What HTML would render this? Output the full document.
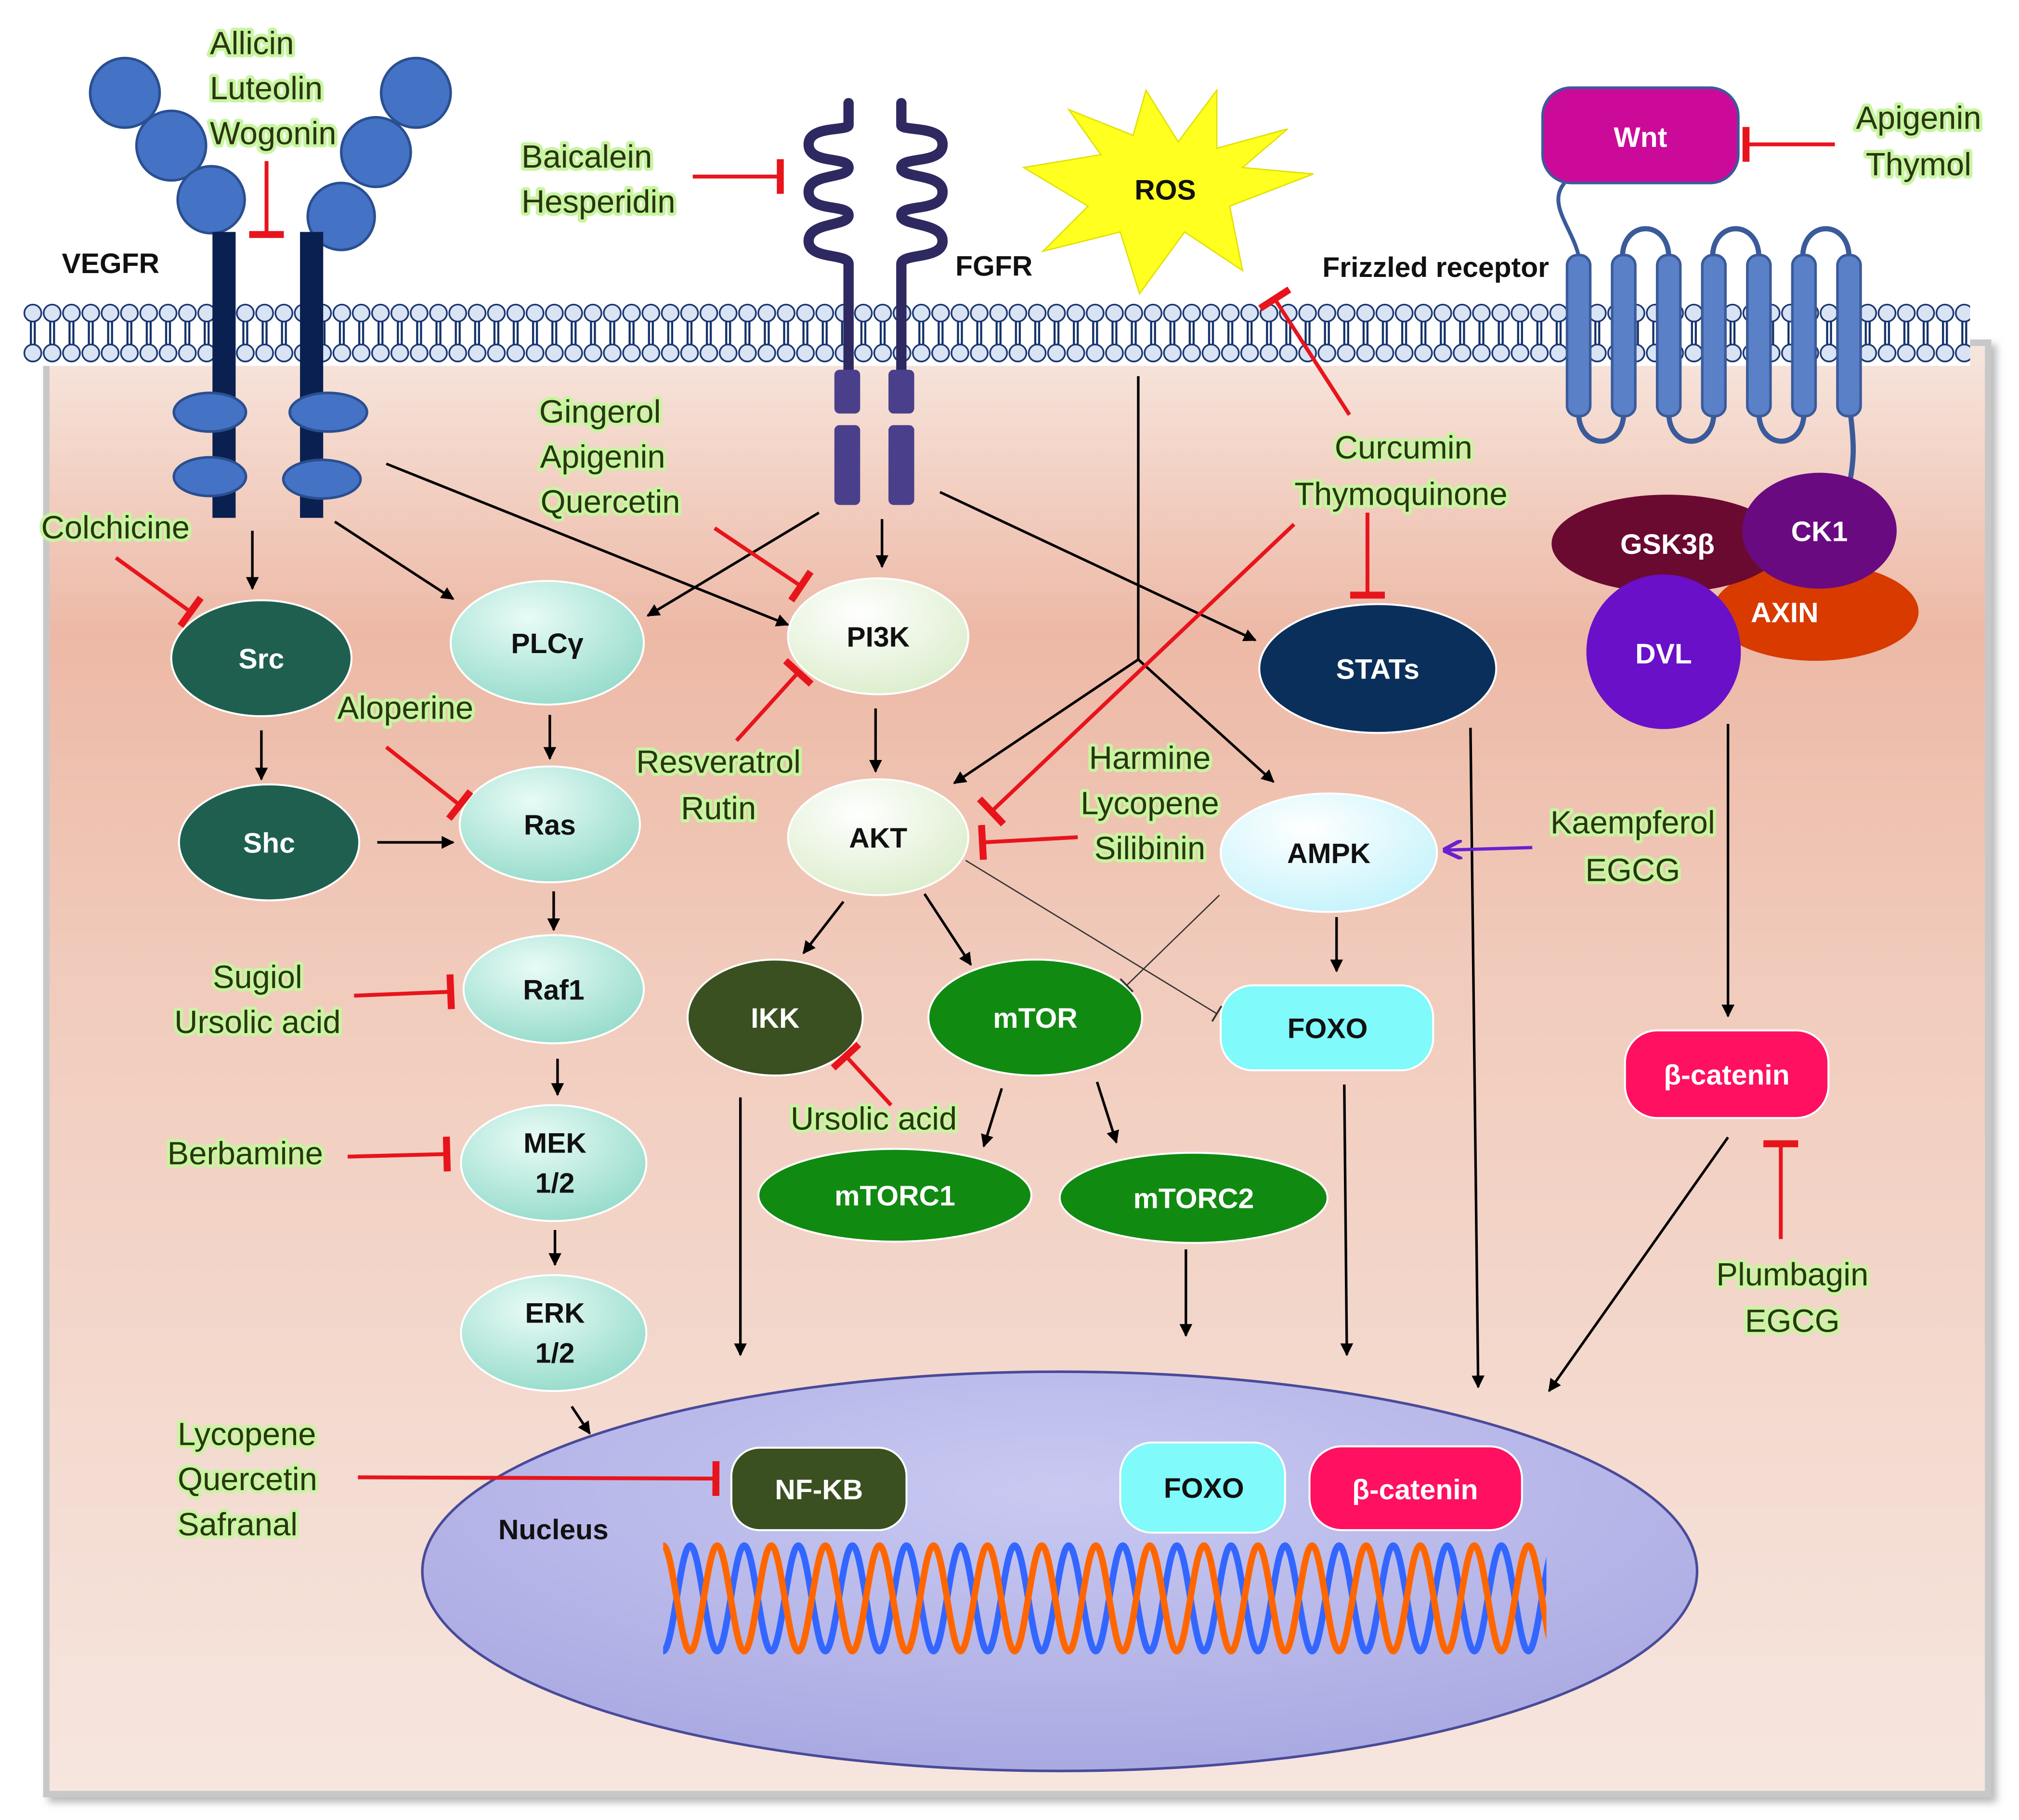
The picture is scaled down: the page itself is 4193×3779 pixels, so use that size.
<!DOCTYPE html>
<html><head><meta charset="utf-8"><style>html,body{margin:0;padding:0;background:#fff}svg{display:block}</style></head><body>
<svg width="4193" height="3779" viewBox="0 0 1568 1413" xmlns="http://www.w3.org/2000/svg" font-family="Liberation Sans, sans-serif">
<defs>
<linearGradient id="cell" x1="0" y1="0" x2="0" y2="1">
<stop offset="0" stop-color="#f7e6de"/><stop offset="0.2" stop-color="#edb9a6"/><stop offset="0.45" stop-color="#f1ccbd"/><stop offset="1" stop-color="#f6e6df"/></linearGradient>
<radialGradient id="aq" cx="0.4" cy="0.3" r="0.8"><stop offset="0" stop-color="#e8fbf6"/><stop offset="1" stop-color="#8fd9c8"/></radialGradient>
<radialGradient id="cr" cx="0.4" cy="0.3" r="0.8"><stop offset="0" stop-color="#ffffff"/><stop offset="1" stop-color="#d9ecc8"/></radialGradient>
<radialGradient id="am" cx="0.4" cy="0.3" r="0.8"><stop offset="0" stop-color="#ffffff"/><stop offset="1" stop-color="#c0f2fb"/></radialGradient>
<radialGradient id="nuc" cx="0.5" cy="0.3" r="0.8"><stop offset="0" stop-color="#c9c9f2"/><stop offset="1" stop-color="#a5a5e0"/></radialGradient>
<pattern id="mem" x="18" y="234" width="15" height="50" patternUnits="userSpaceOnUse">
<line x1="6" y1="14" x2="6" y2="36" stroke="#12306a" stroke-width="1.6"/><line x1="9" y1="14" x2="9" y2="36" stroke="#12306a" stroke-width="1.6"/>
<circle cx="7.5" cy="9" r="6.6" fill="#d8e3f4" stroke="#1a3570" stroke-width="1.3"/>
<circle cx="7.5" cy="40" r="6.6" fill="#d8e3f4" stroke="#1a3570" stroke-width="1.3"/>
</pattern>
<pattern id="dna" x="515" y="1196" width="42" height="90" patternUnits="userSpaceOnUse">
<path d="M-21,4 C-13.4,4 -7.6,86 0,86 C7.6,86 13.4,4 21,4 C28.6,4 34.4,86 42,86 C49.6,86 55.4,4 63,4" stroke="#3366ff" stroke-width="5" fill="none"/>
<path d="M-21,86 C-13.4,86 -7.6,4 0,4 C7.6,4 13.4,86 21,86 C28.6,86 34.4,4 42,4 C49.6,4 55.4,86 63,86" stroke="#ff6600" stroke-width="5" fill="none"/>
</pattern>
<marker id="ah" viewBox="0 0 10 10" refX="9" refY="5" markerWidth="5" markerHeight="5" orient="auto"><path d="M0,0 L10,5 L0,10 z" fill="#000"/></marker>
<marker id="ahp" viewBox="0 0 10 10" refX="9" refY="5" markerWidth="6" markerHeight="6" orient="auto"><path d="M0,0 L10,5 L0,10" fill="none" stroke="#6a20d0" stroke-width="2"/></marker>
<marker id="tb" viewBox="0 0 4 20" refX="2" refY="10" markerWidth="4" markerHeight="9" orient="auto"><rect x="0" y="0" width="4" height="20" fill="#e8141c"/></marker>
<marker id="tk" viewBox="0 0 4 20" refX="2" refY="10" markerWidth="8" markerHeight="14" orient="auto"><rect x="1" y="0" width="2" height="20" fill="#333"/></marker>
<filter id="sh"><feDropShadow dx="4" dy="4" stdDeviation="3" flood-color="#888" flood-opacity="0.6"/></filter>
</defs>
<rect width="1568" height="1413" fill="#fff"/>
<rect x="36" y="266" width="1508" height="1127" fill="url(#cell)" stroke="#c8c8c8" stroke-width="5" filter="url(#sh)"/>
<rect x="18" y="234" width="1512" height="50" fill="#fff"/>
<rect x="18" y="234" width="1512" height="50" fill="url(#mem)"/>

<!-- Nucleus -->
<ellipse cx="823" cy="1220" rx="495" ry="155" fill="url(#nuc)" stroke="#4a4a9a" stroke-width="2"/>
<rect x="515" y="1196" width="686" height="90" fill="url(#dna)"/>

<!-- VEGFR -->
<g fill="#4472c4" stroke="#2a4f90" stroke-width="2">
<circle cx="97" cy="72" r="27"/><circle cx="133" cy="113" r="27"/><circle cx="164" cy="155" r="26"/>
<circle cx="323" cy="72" r="27"/><circle cx="292" cy="118" r="27"/><circle cx="265" cy="168" r="26"/></g>
<rect x="165" y="180" width="18" height="222" fill="#0a2050"/><rect x="233" y="180" width="18" height="222" fill="#0a2050"/>
<g fill="#4472c4" stroke="#2a4f90" stroke-width="2">
<ellipse cx="163" cy="320" rx="28" ry="15"/><ellipse cx="163" cy="370" rx="28" ry="15"/>
<ellipse cx="255" cy="320" rx="30" ry="15"/><ellipse cx="250" cy="372" rx="30" ry="15"/></g>

<!-- FGFR -->
<g stroke="#2e2960" stroke-width="8" fill="none" stroke-linecap="round">
<path d="M659,80 L659,97 C659,102 628,97 628,112 C628,128 659,121 659,130 C659,139 628,134 628,149 C628,165 659,158 659,167 C659,176 628,172 628,187 C628,202 659,196 659,205 L659,292"/>
<path d="M700,80 L700,97 C700,102 732,97 732,112 C732,128 700,121 700,130 C700,139 732,134 732,149 C732,165 700,158 700,167 C700,176 732,172 732,187 C732,202 700,196 700,205 L700,292"/></g>
<rect x="648" y="287" width="20" height="34" rx="4" fill="#4a3f8a"/><rect x="690" y="287" width="20" height="34" rx="4" fill="#4a3f8a"/>
<rect x="648" y="330" width="20" height="62" rx="4" fill="#4a3f8a"/><rect x="690" y="330" width="20" height="62" rx="4" fill="#4a3f8a"/>

<!-- ROS -->
<polygon points="1020,135 955,160 965,210 920,180 885,228 870,180 810,195 845,160 795,130 855,120 830,85 880,105 890,70 915,110 945,70 945,115 1000,100 965,130" fill="#ffff20" stroke="#e0e000"/>

<!-- Frizzled -->
<path d="M1215,142 C1200,160 1225,180 1227,205" stroke="#3a5a9a" stroke-width="3" fill="none"/>
<g fill="none" stroke="#3a5a9a" stroke-width="4">
<path d="M1260,200 C1260,170 1296,170 1296,200"/><path d="M1330,200 C1330,170 1366,170 1366,200"/><path d="M1400,200 C1400,170 1436,170 1436,200"/>
<path d="M1226,320 C1226,350 1261,350 1261,320"/><path d="M1296,320 C1296,350 1331,350 1331,320"/><path d="M1366,320 C1366,350 1401,350 1401,320"/>
<path d="M1437,320 C1440,345 1440,355 1437,372"/></g>
<g fill="#5a80c8" stroke="#3a5a9a" stroke-width="2">
<rect x="1217" y="198" width="18" height="125" rx="8"/><rect x="1252" y="198" width="18" height="125" rx="8"/><rect x="1287" y="198" width="18" height="125" rx="8"/><rect x="1322" y="198" width="18" height="125" rx="8"/><rect x="1357" y="198" width="18" height="125" rx="8"/><rect x="1392" y="198" width="18" height="125" rx="8"/><rect x="1427" y="198" width="18" height="125" rx="8"/></g>
<rect x="1198" y="68" width="152" height="74" rx="22" fill="#cc0a99" stroke="#3a5a9a" stroke-width="2"/>

<!-- Wnt complex -->
<ellipse cx="1410" cy="475" rx="80" ry="38" fill="#d83a00"/>
<ellipse cx="1295" cy="422" rx="90" ry="38" fill="#6a0a30"/>
<ellipse cx="1413" cy="412" rx="60" ry="45" fill="#6a0a80"/>
<circle cx="1292" cy="506" r="60" fill="#6a10c8"/>

<!-- Nodes -->
<g stroke="#ffffff" stroke-width="1.5">
<ellipse cx="203" cy="511" rx="70" ry="45" fill="#1f5f50"/>
<ellipse cx="209" cy="654" rx="70" ry="45" fill="#1f5f50"/>
<ellipse cx="425" cy="499" rx="75" ry="48" fill="url(#aq)"/>
<ellipse cx="427" cy="640" rx="70" ry="45" fill="url(#aq)"/>
<ellipse cx="430" cy="768" rx="70" ry="42" fill="url(#aq)"/>
<ellipse cx="430" cy="903" rx="72" ry="45" fill="url(#aq)"/>
<ellipse cx="430" cy="1035" rx="72" ry="45" fill="url(#aq)"/>
<ellipse cx="682" cy="494" rx="70" ry="45" fill="url(#cr)"/>
<ellipse cx="682" cy="650" rx="70" ry="45" fill="url(#cr)"/>
<ellipse cx="1070" cy="519" rx="92" ry="50" fill="#0a2f5a"/>
<ellipse cx="1032" cy="662" rx="84" ry="46" fill="url(#am)"/>
<rect x="948" y="765" width="165" height="66" rx="25" fill="#80fafa"/>
<ellipse cx="602" cy="790" rx="68" ry="45" fill="#3a5020"/>
<ellipse cx="804" cy="790" rx="83" ry="45" fill="#118a11"/>
<ellipse cx="695" cy="928" rx="106" ry="36" fill="#118a11"/>
<ellipse cx="927" cy="930" rx="104" ry="35" fill="#118a11"/>
<rect x="1262" y="800" width="158" height="68" rx="25" fill="#ff1060"/>
<rect x="568" y="1124" width="136" height="64" rx="22" fill="#3a5020"/>
<rect x="870" y="1120" width="128" height="70" rx="25" fill="#80fafa"/>
<rect x="1017" y="1123" width="165" height="65" rx="25" fill="#ff1060"/>
</g>

<!-- node labels -->
<g font-weight="bold" font-size="22" text-anchor="middle">
<g fill="#fff"><text x="203" y="519">Src</text><text x="209" y="662">Shc</text><text x="1070" y="527">STATs</text><text x="602" y="798">IKK</text><text x="804" y="798">mTOR</text><text x="695" y="936">mTORC1</text><text x="927" y="938">mTORC2</text><text x="1295" y="430">GSK3β</text><text x="1413" y="420">CK1</text><text x="1386" y="483">AXIN</text><text x="1292" y="515">DVL</text><text x="1341" y="842">β-catenin</text><text x="636" y="1164">NF-KB</text><text x="1099" y="1164">β-catenin</text><text x="1274" y="114">Wnt</text></g>
<g fill="#111"><text x="425" y="507">PLCγ</text><text x="427" y="648">Ras</text><text x="430" y="776">Raf1</text><text x="431" y="895">MEK</text><text x="431" y="926">1/2</text><text x="431" y="1027">ERK</text><text x="431" y="1058">1/2</text><text x="682" y="502">PI3K</text><text x="682" y="658">AKT</text><text x="1032" y="670">AMPK</text><text x="1031" y="806">FOXO</text><text x="935" y="1163">FOXO</text><text x="905" y="155">ROS</text></g>
<g fill="#111" text-anchor="start"><text x="48" y="212">VEGFR</text><text x="742" y="214">FGFR</text><text x="1027" y="215">Frizzled receptor</text><text x="387" y="1195">Nucleus</text></g>
</g>

<!-- black arrows -->
<g stroke="#000" stroke-width="2" fill="none" marker-end="url(#ah)">
<line x1="196" y1="412" x2="196" y2="457"/><line x1="260" y1="405" x2="352" y2="465"/><line x1="300" y1="360" x2="612" y2="485"/>
<line x1="636" y1="398" x2="503" y2="478"/><line x1="685" y1="403" x2="685" y2="440"/><line x1="730" y1="382" x2="975" y2="497"/>
<line x1="203" y1="567" x2="203" y2="605"/><line x1="293" y1="654" x2="352" y2="654"/><line x1="427" y1="555" x2="427" y2="589"/>
<line x1="680" y1="550" x2="680" y2="599"/><line x1="430" y1="692" x2="430" y2="722"/><line x1="433" y1="822" x2="433" y2="850"/>
<line x1="431" y1="955" x2="431" y2="982"/><line x1="444" y1="1092" x2="458" y2="1113"/><line x1="655" y1="700" x2="624" y2="740"/>
<line x1="718" y1="694" x2="754" y2="749"/><line x1="778" y1="845" x2="764" y2="890"/><line x1="852" y1="840" x2="867" y2="887"/>
<line x1="884" y1="512" x2="741" y2="608"/><line x1="884" y1="512" x2="989" y2="607"/><line x1="1038" y1="712" x2="1038" y2="754"/>
<line x1="575" y1="852" x2="575" y2="1052"/><line x1="921" y1="970" x2="921" y2="1037"/><line x1="1044" y1="842" x2="1046" y2="1052"/>
<line x1="1142" y1="565" x2="1148" y2="1077"/><line x1="1342" y1="562" x2="1342" y2="789"/><line x1="1342" y1="883" x2="1203" y2="1080"/>
</g>
<line x1="884" y1="292" x2="884" y2="512" stroke="#000" stroke-width="2"/>
<line x1="1190" y1="658" x2="1122" y2="660" stroke="#6a20d0" stroke-width="2.5" marker-end="url(#ahp)"/>
<line x1="750" y1="668" x2="945" y2="787" stroke="#333" stroke-width="1" marker-end="url(#tk)"/>
<line x1="947" y1="695" x2="875" y2="765" stroke="#333" stroke-width="1" marker-end="url(#tk)"/>

<!-- red inhibitions -->
<g stroke="#e8141c" stroke-width="3" fill="none" marker-end="url(#tb)">
<line x1="207" y1="125" x2="207" y2="182"/><line x1="538" y1="137" x2="606" y2="137"/><line x1="90" y1="433" x2="148" y2="475"/>
<line x1="555" y1="410" x2="622" y2="455"/><line x1="572" y1="575" x2="620" y2="522"/><line x1="300" y1="580" x2="357" y2="625"/>
<line x1="1005" y1="407" x2="770" y2="630"/><line x1="837" y1="650" x2="763" y2="654"/><line x1="1062" y1="398" x2="1062" y2="462"/>
<line x1="1048" y1="322" x2="990" y2="232"/><line x1="1425" y1="112" x2="1356" y2="112"/><line x1="275" y1="773" x2="350" y2="770"/>
<line x1="270" y1="898" x2="347" y2="896"/><line x1="692" y1="858" x2="657" y2="820"/><line x1="278" y1="1147" x2="556" y2="1148"/>
<line x1="1383" y1="962" x2="1383" y2="888"/>
</g>

<!-- drug labels -->
<g font-family="Liberation Sans, sans-serif" font-size="25" fill="#2a3510" stroke="#c8f5a0" stroke-width="5" paint-order="stroke" stroke-linejoin="round">
<text x="163" y="42">Allicin</text><text x="163" y="77">Luteolin</text><text x="163" y="112">Wogonin</text>
<text x="405" y="130">Baicalein</text><text x="405" y="165">Hesperidin</text>
<text x="32" y="418">Colchicine</text><text x="262" y="558">Aloperine</text>
<text x="130" y="904">Berbamine</text><text x="614" y="877">Ursolic acid</text>
<text x="138" y="1122">Lycopene</text><text x="138" y="1157">Quercetin</text><text x="138" y="1192">Safranal</text>
<g text-anchor="middle">
<text x="466" y="328">Gingerol</text><text x="468" y="363">Apigenin</text><text x="474" y="398">Quercetin</text>
<text x="558" y="600">Resveratrol</text><text x="558" y="636">Rutin</text>
<text x="893" y="597">Harmine</text><text x="893" y="632">Lycopene</text><text x="893" y="667">Silibinin</text>
<text x="1090" y="356">Curcumin</text><text x="1088" y="392">Thymoquinone</text>
<text x="1490" y="100">Apigenin</text><text x="1490" y="136">Thymol</text>
<text x="1268" y="647">Kaempferol</text><text x="1268" y="684">EGCG</text>
<text x="200" y="767">Sugiol</text><text x="200" y="802">Ursolic acid</text>
<text x="1392" y="998">Plumbagin</text><text x="1392" y="1034">EGCG</text>
</g></g>
</svg>
</body></html>
